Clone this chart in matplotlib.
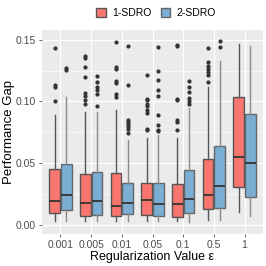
import matplotlib
matplotlib.use("Agg")
import matplotlib.pyplot as plt
from matplotlib.patches import Patch
import numpy as np

plt.rcParams['font.family'] = ['Liberation Sans', 'DejaVu Sans']

categories = ["0.001", "0.005", "0.01", "0.05", "0.1", "0.5", "1"]
series = ["1-SDRO", "2-SDRO"]

# stats per category: (whislo, q1, med, q3, whishi)
s1_low = [0.0027, 0.0027, 0.0027, 0.0027, 0.0027, 0.0040, 0.0107]
s1_q1 = [0.0097, 0.0073, 0.0075, 0.0081, 0.0059, 0.0126, 0.0304]
s1_med = [0.0196, 0.0175, 0.0153, 0.0202, 0.0169, 0.0242, 0.0546]
s1_q3 = [0.0450, 0.0410, 0.0420, 0.0340, 0.0328, 0.0530, 0.1035]
s1_high = [0.0887, 0.0915, 0.0930, 0.0707, 0.0707, 0.1120, 0.1465]
s1_fliers = [
    [0.143, 0.113, 0.1115, 0.1005],
    [0.137, 0.1355, 0.128, 0.1196, 0.107, 0.1048, 0.1013, 0.0976],
    [0.1484, 0.1277, 0.126, 0.117, 0.115, 0.106, 0.104],
    [0.1215, 0.102, 0.1013, 0.0976, 0.096, 0.0927, 0.091, 0.0774, 0.077],
    [0.146, 0.145, 0.102, 0.1013, 0.085, 0.083, 0.0766],
    [0.1438, 0.1317, 0.129, 0.1264, 0.124, 0.1215, 0.116],
    [],
]

s2_low = [0.0027, 0.0027, 0.0027, 0.0027, 0.0019, 0.0040, 0.0067]
s2_q1 = [0.0118, 0.0078, 0.0089, 0.0073, 0.0094, 0.0134, 0.0223]
s2_med = [0.0242, 0.0196, 0.0180, 0.0167, 0.0212, 0.0315, 0.0503]
s2_q3 = [0.0490, 0.0430, 0.0336, 0.0336, 0.0444, 0.0637, 0.0900]
s2_high = [0.1035, 0.0914, 0.0685, 0.0726, 0.0946, 0.1330, 0.1450]
s2_fliers = [
    [0.127, 0.1255],
    [0.121, 0.1156, 0.112, 0.109, 0.106, 0.096],
    [0.145, 0.113, 0.085, 0.083, 0.0815, 0.080, 0.078, 0.0744],
    [0.1446, 0.1245, 0.1175, 0.1097, 0.1043, 0.0887, 0.0812, 0.0772, 0.0764],
    [0.117, 0.112, 0.1075, 0.1027, 0.100, 0.098],
    [0.149, 0.1444],
    [],
]

red = "#F8766D"
blue = "#7BAED4"

fig = plt.figure(figsize=(2.66, 2.66), dpi=100)
ax = fig.add_axes([42 / 266, 1 - 234 / 266, 221 / 266, 204 / 266])
ax.set_facecolor("#EBEBEB")
for sp in ax.spines.values():
    sp.set_visible(False)

def make_stats(lo, q1, med, q3, hi, fl):
    return [dict(whislo=a, q1=b, med=c, q3=d, whishi=e, fliers=f)
            for a, b, c, d, e, f in zip(lo, q1, med, q3, hi, fl)]

x = np.arange(len(categories))
off = 0.19
w = 0.35
for stats, pos, col, edge, wcol in [
    (make_stats(s1_low, s1_q1, s1_med, s1_q3, s1_high, s1_fliers), x - off, red, "#555555", "#555555"),
    (make_stats(s2_low, s2_q1, s2_med, s2_q3, s2_high, s2_fliers), x + off, blue, "#666666", "#8A8A8A"),
]:
    ax.bxp(stats, positions=pos, widths=w, patch_artist=True, showcaps=False,
           boxprops=dict(facecolor=col, edgecolor=edge, linewidth=1.0),
           medianprops=dict(color="#333333", linewidth=1.3),
           whiskerprops=dict(color=wcol, linewidth=1.0),
           flierprops=dict(marker="o", markersize=2.0, markerfacecolor="#333333",
                           markeredgecolor="#333333", linestyle="none"),
           zorder=3)

ax.set_xlim(-0.6, len(categories) - 0.4)
ax.set_ylim(-0.0075, 0.158)
ax.set_xticks(x)
ax.set_xticklabels(categories)
ax.set_yticks([0.0, 0.05, 0.10, 0.15])
ax.set_yticklabels(["0.00", "0.05", "0.10", "0.15"])
ax.set_yticks([0.025, 0.075, 0.125], minor=True)
ax.grid(True, which="major", color="white", linewidth=0.9, zorder=0)
ax.grid(True, which="minor", axis="y", color="white", linewidth=0.45, zorder=0)
ax.set_axisbelow(True)
ax.tick_params(axis="both", which="major", labelsize=7.5, colors="#4D4D4D",
               length=2.5, width=0.6, pad=2, labelcolor="#4D4D4D")
ax.tick_params(axis="y", which="minor", length=0)
ax.set_xlabel("Regularization Value ε", fontsize=9, color="black")
ax.set_ylabel("Performance Gap", fontsize=9.5, color="black")
ax.xaxis.set_label_coords(0.5, -17 / 204)
ax.yaxis.set_label_coords(-27 / 221, 0.5)

handles = [Patch(facecolor=red, edgecolor="#555555", label=series[0]),
           Patch(facecolor=blue, edgecolor="#666666", label=series[1])]
fig.legend(handles=handles, loc="center", bbox_to_anchor=(156 / 266, 1 - 13 / 266),
           ncol=2, frameon=False, fontsize=7.5, handlelength=0.9, handleheight=0.9,
           handletextpad=0.6, columnspacing=0.9)

fig.savefig("out.png", dpi=100)
